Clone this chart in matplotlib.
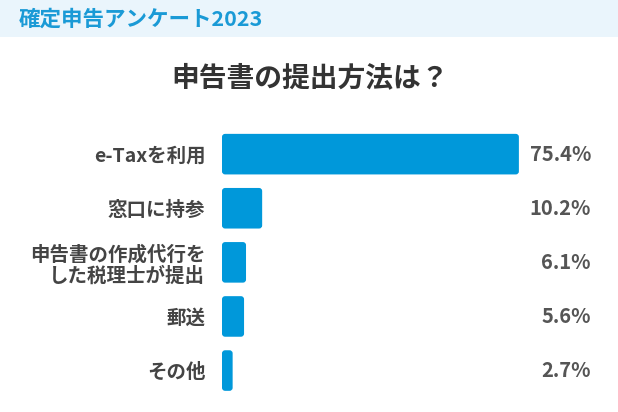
import matplotlib
matplotlib.use("Agg")
import matplotlib.pyplot as plt
from matplotlib.patches import Rectangle, FancyBboxPatch
import matplotlib.transforms as mtransforms

plt.rcParams['font.family'] = ['Noto Sans CJK JP', 'DejaVu Sans']

header = "確定申告アンケート2023"
title = "申告書の提出方法は？"
categories = ["e-Taxを利用", "窓口に持参", "申告書の作成代行を\nした税理士が提出", "郵送", "その他"]
values = [75.4, 10.2, 6.1, 5.6, 2.7]
value_labels = ["75.4%", "10.2%", "6.1%", "5.6%", "2.7%"]

BAR_COLOR = "#0098DA"

fig = plt.figure(figsize=(6.18, 4.12), dpi=100)
fig.patch.set_facecolor("white")

# header band
fig.patches.append(Rectangle((0, 1 - 37 / 412), 1, 37 / 412, transform=fig.transFigure,
                             facecolor="#EAF5FC", edgecolor="none", zorder=0))
fig.text(19 / 618, 1 - 19 / 412, header, color="#1A9AD6", fontsize=15.5,
         fontweight="bold", ha="left", va="center")
fig.text(0.502, 1 - 78 / 412, title, color="#333333", fontsize=20,
         fontweight="bold", ha="center", va="center")

ax = fig.add_axes([222 / 618, 14.4 / 412, 315 / 618, 270.5 / 412])
ypos = list(range(len(categories)))
bars = ax.barh(ypos, values, height=0.75, color=BAR_COLOR)
ax.set_xlim(0, 80)
ax.set_ylim(4.5, -0.5)

# swap the plain bars for slightly rounded ones
for b in bars:
    x0, y0 = b.get_x(), b.get_y()
    w, h = b.get_width(), b.get_height()
    b.set_visible(False)
    ax.add_patch(FancyBboxPatch((x0, y0), w, h,
                                boxstyle="round,pad=0,rounding_size=0.8",
                                mutation_aspect=0.07, facecolor=BAR_COLOR,
                                edgecolor="none"))

ax.set_yticks(ypos)
ax.set_yticklabels(categories, fontsize=14, fontweight="bold", color="#444444",
                   linespacing=1.15)
ax.tick_params(axis="y", length=0, pad=12)
ax.set_xticks([])
for s in ax.spines.values():
    s.set_visible(False)

trans = mtransforms.blended_transform_factory(fig.transFigure, ax.transData)
for y, lab in zip(ypos, value_labels):
    ax.text(591 / 618, y, lab, transform=trans, ha="right", va="center",
            fontsize=14.5, fontweight="bold", color="#555555")

fig.savefig("out.png", dpi=100)
